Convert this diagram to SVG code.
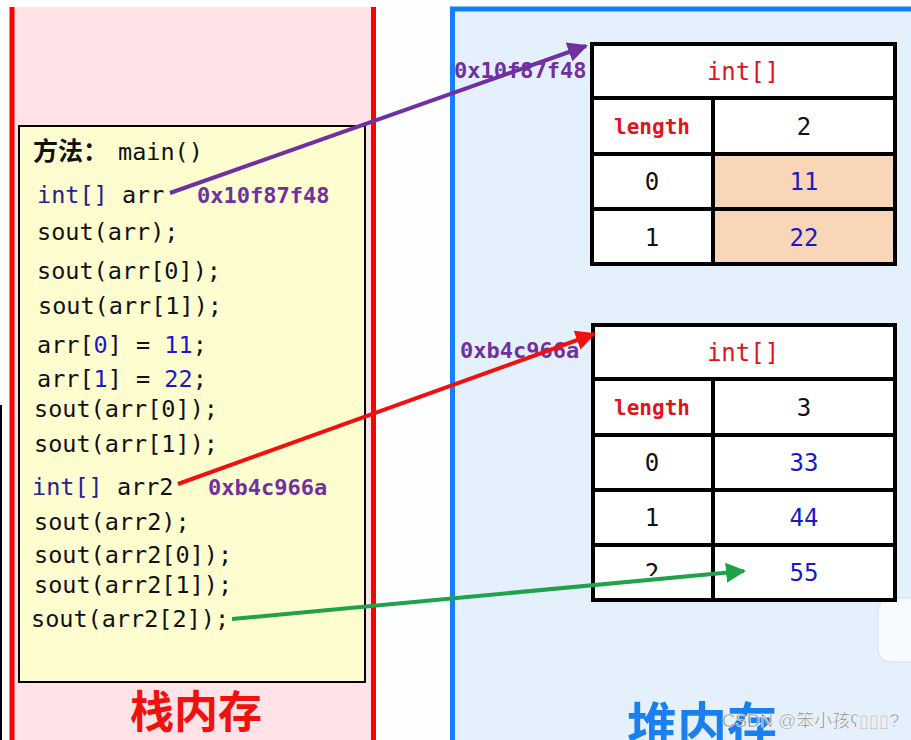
<svg xmlns="http://www.w3.org/2000/svg" width="911" height="740" viewBox="0 0 911 740">
<defs>
<style>
.code{font-family:"DejaVu Sans Mono","Liberation Mono",monospace;font-size:23.5px;fill:#111}
.kw{fill:#23238a}
.num{fill:#1a1ac8}
.addr{font-family:"DejaVu Sans Mono","Liberation Mono",monospace;font-size:22px;font-weight:bold;fill:#7030a0}
.cell{fill:#fff;stroke:#000;stroke-width:4}
.hl{fill:#f9d6b8;stroke:#000;stroke-width:4}
.tt{font-family:"DejaVu Sans Mono","Liberation Mono",monospace;font-size:24px;text-anchor:middle;fill:#111}
.red{fill:#e0141e}
.len{font-family:"DejaVu Sans Mono","Liberation Mono",monospace;font-size:21px;font-weight:bold;text-anchor:middle;fill:#e0141e}
.val{fill:#1a1ac8}
</style>
<marker id="ap" viewBox="0 0 10 10" refX="9" refY="5" markerWidth="5" markerHeight="5" orient="auto" markerUnits="strokeWidth"><path d="M0,0 L10,5 L0,10 z" fill="#7030a0"/></marker>
<marker id="ar" viewBox="0 0 10 10" refX="9" refY="5" markerWidth="5" markerHeight="5" orient="auto" markerUnits="strokeWidth"><path d="M0,0 L10,5 L0,10 z" fill="#f01010"/></marker>
<marker id="ag" viewBox="0 0 10 10" refX="9" refY="5" markerWidth="5" markerHeight="5" orient="auto" markerUnits="strokeWidth"><path d="M0,0 L10,5 L0,10 z" fill="#1fa24a"/></marker>
</defs>
<rect width="911" height="740" fill="#fdfefe"/>
<line x1="1" y1="405" x2="1" y2="740" stroke="#000" stroke-width="2"/>

<g id="stack">
<rect x="12" y="7" width="361" height="740" fill="#ffe3e7"/>
<line x1="12" y1="7" x2="12" y2="740" stroke="#f00" stroke-width="5"/>
<line x1="373.5" y1="7" x2="373.5" y2="740" stroke="#f00" stroke-width="5"/>
<text x="196" y="728" font-family="'Noto Sans CJK SC',sans-serif" font-size="44" font-weight="bold" fill="#f01010" text-anchor="middle">栈内存</text>
</g>

<g id="heap">
<rect x="452.5" y="9" width="470" height="740" fill="#e4f1fd"/>
<path d="M452.5,740 V9 H911" fill="none" stroke="#1580f5" stroke-width="5"/>
<text x="702" y="744" font-family="'Noto Sans CJK SC',sans-serif" font-size="50" font-weight="bold" fill="#1a80f0" text-anchor="middle">堆内存</text>
<text x="722" y="727" font-family="'Liberation Sans','Noto Sans CJK SC',sans-serif" font-size="18" fill="#7c7c7c" stroke="#fff" stroke-width="0.5">CSDN @笨小孩ʕ▯▯▯?</text>
<rect x="878" y="598" width="50" height="64" rx="12" fill="#f8fbfe" stroke="#d4dee8" stroke-width="1"/>
</g>

<g id="main-frame">
<rect x="19" y="126" width="346" height="556" fill="#fefdd0" stroke="#000" stroke-width="2"/>
<text x="33" y="160" class="code"><tspan font-family="'Noto Sans CJK SC',sans-serif" font-weight="bold" font-size="25">方法：</tspan><tspan dx="10">main()</tspan></text>
<text x="37" y="203" class="code"><tspan class="kw">int[]</tspan> arr</text>
<text x="197" y="203" class="addr">0x10f87f48</text>
<text x="37" y="240" class="code">sout(arr);</text>
<text x="37" y="279" class="code">sout(arr[0]);</text>
<text x="38" y="314" class="code">sout(arr[1]);</text>
<text x="37" y="353" class="code">arr[<tspan class="num">0</tspan>] = <tspan class="num">11</tspan>;</text>
<text x="37" y="387" class="code">arr[<tspan class="num">1</tspan>] = <tspan class="num">22</tspan>;</text>
<text x="34" y="417" class="code">sout(arr[0]);</text>
<text x="34" y="452" class="code">sout(arr[1]);</text>
<text x="32" y="495" class="code"><tspan class="kw">int[]</tspan> arr2</text>
<text x="208" y="495" class="addr">0xb4c966a</text>
<text x="34" y="530" class="code">sout(arr2);</text>
<text x="34" y="563" class="code">sout(arr2[0]);</text>
<text x="34" y="593" class="code">sout(arr2[1]);</text>
<text x="31" y="627" class="code">sout(arr2[2]);</text>
</g>

<g id="array1">
<rect x="592" y="44" width="303" height="54" class="cell"/>
<rect x="592" y="98" width="121" height="56" class="cell"/>
<rect x="713" y="98" width="182" height="56" class="cell"/>
<rect x="592" y="154" width="121" height="55" class="cell"/>
<rect x="713" y="154" width="182" height="55" class="hl"/>
<rect x="592" y="209" width="121" height="55" class="cell"/>
<rect x="713" y="209" width="182" height="55" class="hl"/>
<text x="743" y="80" class="tt red">int[]</text>
<text x="652" y="134" class="len">length</text>
<text x="804" y="135" class="tt">2</text>
<text x="652" y="190" class="tt">0</text>
<text x="804" y="190" class="tt val">11</text>
<text x="652" y="246" class="tt">1</text>
<text x="804" y="246" class="tt val">22</text>
</g>

<g id="array2">
<rect x="593" y="325" width="302" height="54" class="cell"/>
<rect x="593" y="379" width="120" height="56" class="cell"/>
<rect x="713" y="379" width="182" height="56" class="cell"/>
<rect x="593" y="435" width="120" height="55" class="cell"/>
<rect x="713" y="435" width="182" height="55" class="cell"/>
<rect x="593" y="490" width="120" height="55" class="cell"/>
<rect x="713" y="490" width="182" height="55" class="cell"/>
<rect x="593" y="545" width="120" height="55" class="cell"/>
<rect x="713" y="545" width="182" height="55" class="cell"/>
<text x="743" y="361" class="tt red">int[]</text>
<text x="652" y="415" class="len">length</text>
<text x="804" y="416" class="tt">3</text>
<text x="652" y="471" class="tt">0</text>
<text x="804" y="471" class="tt val">33</text>
<text x="652" y="526" class="tt">1</text>
<text x="804" y="526" class="tt val">44</text>
<text x="652" y="581" class="tt">2</text>
<rect x="615" y="576" width="80" height="21" fill="#fff"/>
<text x="804" y="581" class="tt val">55</text>
</g>

<g id="labels">
<text x="454" y="78" class="addr">0x10f87f48</text>
<text x="460" y="358" class="addr">0xb4c966a</text>
</g>

<g id="connectors" fill="none" stroke-width="4">
<line x1="170" y1="193" x2="586" y2="46" stroke="#7030a0" marker-end="url(#ap)"/>
<line x1="178" y1="484" x2="594" y2="334" stroke="#f01010" marker-end="url(#ar)"/>
<line x1="232" y1="619" x2="744" y2="571" stroke="#1fa24a" marker-end="url(#ag)"/>
</g>
</svg>
